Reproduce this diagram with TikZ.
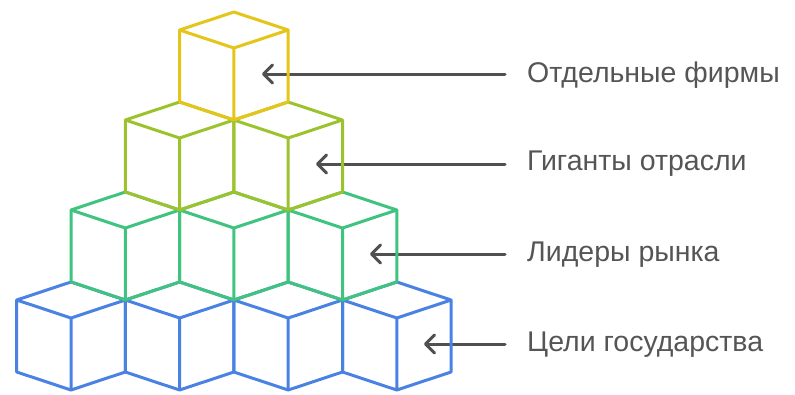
\documentclass[tikz,border=0pt]{standalone}
\usepackage{fontspec}
\setmainfont{Liberation Sans}
\usetikzlibrary{arrows.meta}
\definecolor{cubeA}{HTML}{E5C51A}
\definecolor{cubeB}{HTML}{9CC32E}
\definecolor{cubeC}{HTML}{3FC37F}
\definecolor{cubeD}{HTML}{4A82E4}
\definecolor{ink}{HTML}{505050}
\definecolor{labelgray}{HTML}{555555}
\tikzset{
  cubeline/.style={line width=3pt, line join=round, line cap=round},
  pointer/.style={draw=ink, line width=3pt, line cap=round,
    -{Straight Barb[length=9pt,width=18pt,line width=3pt,round]}},
  tag/.style={anchor=west, text=labelgray, font=\fontsize{28.5}{32}\selectfont, inner sep=0pt}
}
% cube outline: #1 = center x, #2 = top vertex y, #3 = colour
\newcommand{\isocube}[3]{%
  \draw[cubeline, draw=#3]
    (#1,#2) -- ({#1+54.3},{#2+18}) -- ({#1+54.3},{#2+90}) -- (#1,{#2+108})
    -- ({#1-54.3},{#2+90}) -- ({#1-54.3},{#2+18}) -- cycle
    ({#1-54.3},{#2+18}) -- (#1,{#2+36}) -- ({#1+54.3},{#2+18})
    (#1,{#2+36}) -- (#1,{#2+108});
}
\begin{document}
\begin{tikzpicture}[x=1pt,y=-1pt]
\useasboundingbox (0,0) rectangle (795,394);
% labels and pointers
\node[tag] (t1) at (527,75) {Отдельные фирмы};
\node[tag] (t2) at (527,164) {Гиганты отрасли};
\node[tag] (t3) at (527,255) {Лидеры рынка};
\node[tag] (t4) at (527,345) {Цели государства};
\coordinate (p1) at (262,74);
\coordinate (p2) at (316,164);
\coordinate (p3) at (370,254);
\coordinate (p4) at (424,344);
\coordinate (s1) at (505,74);
\coordinate (s2) at (505,164);
\coordinate (s3) at (505,254);
\coordinate (s4) at (505,344);
\draw[pointer] (s1) -- (p1);
\draw[pointer] (s2) -- (p2);
\draw[pointer] (s3) -- (p3);
\draw[pointer] (s4) -- (p4);
% bottom row
\foreach \cx in {71,179.6,288.2,396.8} {\isocube{\cx}{282}{cubeD}}
% second row
\foreach \cx in {125.3,233.9,342.5} {\isocube{\cx}{192}{cubeC}}
% third row
\foreach \cx in {179.6,288.2} {\isocube{\cx}{102}{cubeB}}
% top
\isocube{233.9}{12}{cubeA}
\end{tikzpicture}
\end{document}
